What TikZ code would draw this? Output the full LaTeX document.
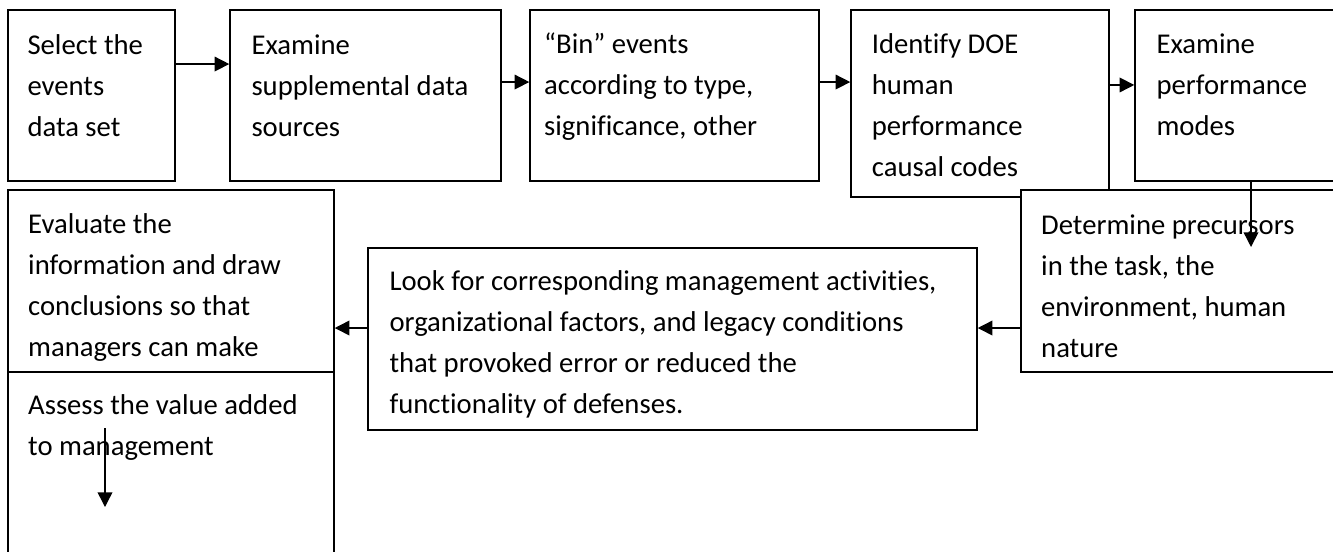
\documentclass[tikz,border=0pt]{standalone}
\usepackage{fontspec}
\setmainfont{Carlito}[Ligatures=NoCommon]
\usetikzlibrary{arrows.meta}

\begin{document}
\begin{tikzpicture}[x=0.75pt, y=-0.75pt,
	box/.style={draw, line width=1.1pt, fill=white, inner sep=0pt},
	txt/.style={anchor=north west, inner sep=0pt, align=left, font=\fontsize{21.5}{30.75}\selectfont},
	flow/.style={line width=1.1pt, -{Triangle[length=11pt, width=11pt]}}]

	% Page
	\useasboundingbox (0,0) rectangle (1333,551);
	\clip (0,0) rectangle (1333,551);

	% Top row of boxes
	\node [box, minimum width=125.25pt, minimum height=128.25pt] (select) at (91.5,95.5) {};
	\node [box, minimum width=203.25pt, minimum height=128.25pt] (examine) at (365.5,95.5) {};
	\node [box, minimum width=216.75pt, minimum height=128.25pt] (bin) at (674.5,95.5) {};
	\node [box, minimum width=193.5pt, minimum height=140.25pt] (identify) at (980,103.5) {};
	\node [box, minimum width=157.5pt, minimum height=128.25pt] (modes) at (1240,95.5) {};

	% Lower boxes
	\node [box, minimum width=243pt, minimum height=136.5pt] (precursors) at (1183,281) {};
	\node [box, minimum width=456.75pt, minimum height=136.5pt] (look) at (672.5,339) {};
	\node [box, minimum width=244.5pt, minimum height=136.5pt] (evaluate) at (171,281) {};
	\node [box, minimum width=244.5pt, minimum height=171pt] (assess) at (171,486) {};

	% Texts
	\node [txt] (select-t) at ([xshift=15pt, yshift=-12pt]select.north west) {\strut Select the\\events\\data set};
	\node [txt] (examine-t) at ([xshift=16.5pt, yshift=-12pt]examine.north west) {\strut Examine\\supplemental data\\sources};
	\node [txt] (bin-t) at ([xshift=11pt, yshift=-11.5pt]bin.north west) {\strut “Bin” events\\according to type,\\significance, other};
	\node [txt] (identify-t) at ([xshift=16pt, yshift=-11.5pt]identify.north west) {\strut Identify DOE\\human\\performance\\causal codes};
	\node [txt] (modes-t) at ([xshift=16.5pt, yshift=-11.5pt]modes.north west) {\strut Examine\\performance\\modes};
	\node [txt] (precursors-t) at ([xshift=15.5pt, yshift=-12pt]precursors.north west) {\strut Determine precursors\\in the task, the\\environment, human\\nature};
	\node [txt] (look-t) at ([xshift=16.5pt, yshift=-10.5pt]look.north west) {\strut Look for corresponding management activities,\\organizational factors, and legacy conditions\\that provoked error or reduced the\\functionality of defenses.};
	\node [txt] (evaluate-t) at ([xshift=15.5pt, yshift=-11.5pt]evaluate.north west) {\strut Evaluate the\\information and draw\\conclusions so that\\managers can make};
	\node [txt] (assess-t) at ([xshift=15.5pt, yshift=-10.5pt]assess.north west) {\strut Assess the value added\\to management};

	% Arrows
	\coordinate (drop) at (1251,247);
	\coordinate (down-a) at (105,428);
	\coordinate (down-b) at (105,507);
	\draw [flow] ([yshift=23.6pt]select.east) -- ([yshift=23.6pt]select.east -| examine.west);
	\draw [flow] ([yshift=10.1pt]examine.east) -- ([yshift=10.1pt]examine.east -| bin.west);
	\draw [flow] ([yshift=10.1pt]bin.east) -- ([yshift=10.1pt]bin.east -| identify.west);
	\draw [flow] ([yshift=7.9pt]modes.west -| identify.east) -- ([yshift=7.9pt]modes.west);
	\draw [flow] (modes.south -| drop) -- (drop);
	\draw [flow] ([yshift=8.25pt]look.east -| precursors.west) -- ([yshift=8.25pt]look.east);
	\draw [flow] ([yshift=8.25pt]look.west) -- ([yshift=8.25pt]look.west -| evaluate.east);
	\draw [flow] (down-a) -- (down-b);

\end{tikzpicture}
\end{document}
